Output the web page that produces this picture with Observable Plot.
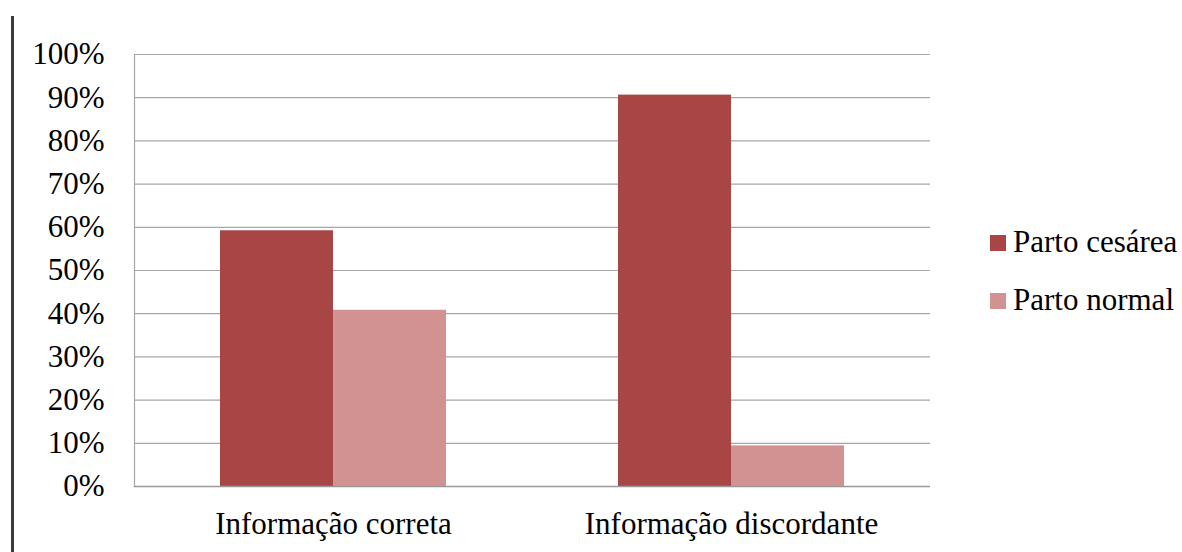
<!DOCTYPE html>
<html>
<head>
<meta charset="utf-8">
<script src="https://cdn.jsdelivr.net/npm/d3@7"></script>
<script src="https://cdn.jsdelivr.net/npm/@observablehq/plot@0.6"></script>
<style>
  html, body { margin: 0; padding: 0; background: #fff; }
  #wrap { position: relative; width: 1182px; height: 552px; overflow: hidden; font-family: 'Liberation Serif', serif !important; }
  #wrap *, #wrap svg text { font-family: 'Liberation Serif', serif !important; }
  #edge { position: absolute; left: 11px; top: 16px; width: 3px; height: 540px; background: #3a3a3a; }
  .leg { position: absolute; left: 990px; font-size: 31px; color: #000; line-height: 1; white-space: nowrap; }
  .leg span.sw { position: absolute; left: 0; width: 16px; height: 16px; }
  .leg span.tx { position: absolute; left: 23px; }
</style>
</head>
<body>
<div id="wrap"><div id="edge"></div></div>
<script>
const categories = ["Informação correta", "Informação discordante"];
const series = ["Parto cesárea", "Parto normal"];
const cesarea = [59.2, 90.6];
const normal = [40.8, 9.4];
const yTicks = [0, 10, 20, 30, 40, 50, 60, 70, 80, 90, 100];
const colors = ["#A84646", "#D39292"];
const FONT = "'Liberation Serif', serif";

const data = [];
categories.forEach((c, i) => {
  data.push({cat: c, serie: series[0], value: cesarea[i]});
  data.push({cat: c, serie: series[1], value: normal[i]});
});

const chart = Plot.plot({
  width: 1182,
  height: 552,
  marginLeft: 133,
  marginRight: 252,
  marginTop: 54,
  marginBottom: 66,
  style: {fontFamily: FONT, fontSize: "31px", color: "#000", background: "transparent"},
  fx: {domain: categories, padding: 0, label: null},
  x: {domain: series, paddingInner: 0, paddingOuter: 0.75, axis: null},
  y: {domain: [0, 100], label: null},
  color: {domain: series, range: colors},
  marks: [
    Plot.ruleY(yTicks.slice(1), {y: d => d, stroke: "#a6a6a6", strokeWidth: 1.2, strokeOpacity: 1}),
    Plot.frame({anchor: "left", fx: () => categories[0], stroke: "#a6a6a6", strokeWidth: 1.2, strokeOpacity: 1}),
    Plot.barY(data, {fx: "cat", x: "serie", y: "value", fill: "serie", inset: 0}),
    Plot.ruleY([0], {stroke: "#999", strokeWidth: 1.6, strokeOpacity: 1}),
    Plot.axisY({ticks: yTicks, tickSize: 0, tickPadding: 30, tickFormat: d => d + "%", fontSize: 31, fontFamily: FONT, label: null}),
    Plot.axisFx({anchor: "bottom", tickSize: 0, tickPadding: 25, fontSize: 31, fontFamily: FONT, label: null})
  ]
});

const force = el => el.style.setProperty("font-family", FONT, "important");
force(chart);
chart.querySelectorAll("g, text, tspan").forEach(force);

const wrap = document.getElementById("wrap");
force(wrap);
chart.style.position = "absolute";
chart.style.left = "0px";
chart.style.top = "0px";
wrap.appendChild(chart);

series.forEach((s, i) => {
  const d = document.createElement("div");
  d.className = "leg";
  d.style.top = (235 + i * 58) + "px";
  force(d);
  const sw = document.createElement("span");
  sw.className = "sw";
  sw.style.background = colors[i];
  sw.style.top = "0px";
  const tx = document.createElement("span");
  tx.className = "tx";
  tx.style.top = "-9px";
  force(tx);
  tx.textContent = s;
  d.appendChild(sw);
  d.appendChild(tx);
  wrap.appendChild(d);
});
</script>
</body>
</html>
